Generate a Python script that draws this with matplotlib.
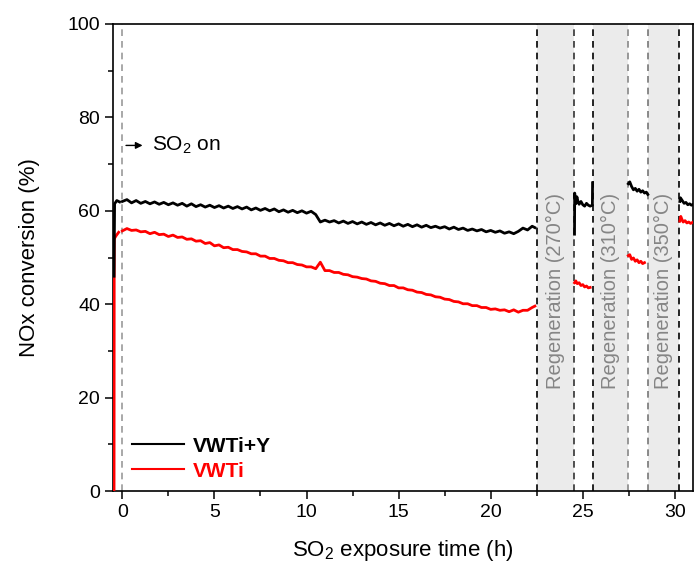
import numpy as np
import matplotlib.pyplot as plt
from matplotlib.ticker import MultipleLocator

plt.rcParams['font.family'] = ['Liberation Sans', 'DejaVu Sans']
plt.rcParams['mathtext.default'] = 'regular'

# catalyst warm-up, before SO2 is switched on
t_pre_y = [-0.45, -0.42, -0.3, -0.15]
vwtiy_pre = [46.0, 61.5, 62.2, 61.9]
t_pre = [-0.45, -0.44, -0.35, -0.2]
vwti_pre = [0.0, 54.0, 54.6, 55.4]

# SO2 exposure, 0 - 22.4 h
t_main = list(np.arange(0, 22.5, 0.25)) + [22.4]
vwtiy_main = [
    62.0, 62.4, 61.7, 62.2, 61.6, 62.0, 61.5, 61.9, 61.4, 61.8, 61.3, 61.7,
    61.2, 61.6, 61.0, 61.5, 60.9, 61.3, 60.8, 61.2, 60.7, 61.1, 60.6, 61.0,
    60.5, 60.9, 60.4, 60.8, 60.2, 60.6, 60.1, 60.5, 60.0, 60.4, 59.8, 60.2,
    59.7, 60.1, 59.6, 60.0, 59.5, 59.9, 59.2, 57.6, 58.0, 57.6, 57.9, 57.4,
    57.8, 57.3, 57.7, 57.2, 57.6, 57.1, 57.5, 57.0, 57.4, 56.9, 57.3, 56.8,
    57.2, 56.7, 57.1, 56.6, 57.0, 56.5, 56.9, 56.4, 56.7, 56.3, 56.6, 56.1,
    56.5, 56.0, 56.3, 55.8, 56.1, 55.7, 56.0, 55.5, 55.8, 55.4, 55.7, 55.2,
    55.5, 55.1, 55.6, 56.3, 55.9, 56.7, 56.4,
]
vwti_main = [
    55.7, 56.2, 55.8, 55.9, 55.5, 55.6, 55.1, 55.4, 54.9, 55.0, 54.5, 54.8,
    54.3, 54.4, 53.9, 54.0, 53.5, 53.6, 53.0, 53.2, 52.5, 52.7, 52.1, 52.2,
    51.7, 51.7, 51.3, 51.2, 50.8, 50.8, 50.3, 50.3, 49.8, 49.8, 49.4, 49.3,
    48.9, 48.9, 48.5, 48.4, 48.0, 48.0, 47.6, 49.0, 47.2, 47.2, 46.8, 46.8,
    46.4, 46.3, 45.9, 45.8, 45.5, 45.4, 45.0, 44.9, 44.5, 44.4, 44.0, 44.0,
    43.5, 43.5, 43.1, 43.0, 42.6, 42.5, 42.1, 42.0, 41.6, 41.5, 41.1, 41.0,
    40.6, 40.5, 40.1, 40.1, 39.7, 39.7, 39.3, 39.3, 38.9, 39.0, 38.7, 38.8,
    38.4, 38.8, 38.3, 38.7, 38.7, 39.3, 39.6,
]

# after regeneration at 270 C
t_r1_y = [24.55, 24.56, 24.62, 24.68, 24.74, 24.8, 24.9, 25.0, 25.1, 25.2, 25.3, 25.4, 25.52, 25.53]
vwtiy_r1 = [55.0, 63.8, 61.5, 63.0, 62.0, 61.4, 62.0, 61.3, 61.0, 61.6, 61.2, 61.0, 61.2, 66.0]
t_r1 = [24.55, 24.62, 24.7, 24.8, 24.9, 25.0, 25.1, 25.2, 25.3, 25.4]
vwti_r1 = [44.6, 45.0, 44.4, 44.6, 44.0, 44.2, 43.7, 43.9, 43.5, 43.6]

# after regeneration at 310 C
t_r2_y = [27.47, 27.55, 27.65, 27.75, 27.85, 27.95, 28.05, 28.15, 28.25, 28.35, 28.45, 28.53]
vwtiy_r2 = [65.8, 66.2, 65.2, 64.5, 64.8, 64.2, 64.6, 64.0, 64.3, 63.8, 64.0, 63.5]
t_r2 = [27.47, 27.55, 27.65, 27.75, 27.85, 27.95, 28.05, 28.15, 28.25, 28.35]
vwti_r2 = [50.4, 50.6, 49.6, 49.9, 49.2, 49.5, 48.9, 49.2, 48.7, 48.9]

# after regeneration at 350 C
t_r3_y = [30.27, 30.3, 30.4, 30.5, 30.6, 30.7, 30.8, 30.9, 31.0]
vwtiy_r3 = [62.0, 62.8, 62.2, 61.6, 61.8, 61.3, 61.5, 61.2, 61.4]
t_r3 = [30.27, 30.32, 30.38, 30.45, 30.55, 30.65, 30.75, 30.85, 30.95]
vwti_r3 = [57.8, 58.8, 58.2, 57.6, 57.9, 57.4, 57.6, 57.3, 57.5]

regen_start = [22.5, 25.55, 28.55]
regen_end = [24.5, 27.45, 30.25]
regen_labels = ['Regeneration (270°C)', 'Regeneration (310°C)', 'Regeneration (350°C)']
regen_line_colors = ['black', '#333333', 'black', '#888888', '#777777', 'black']


def join(parts):
    xs, ys = [], []
    for x, y in parts:
        xs += list(x) + [np.nan]
        ys += list(y) + [np.nan]
    return np.array(xs), np.array(ys)


x_y, y_y = join([(t_pre_y, vwtiy_pre), (t_main, vwtiy_main), (t_r1_y, vwtiy_r1),
                 (t_r2_y, vwtiy_r2), (t_r3_y, vwtiy_r3)])
x_r, y_r = join([(t_pre, vwti_pre), (t_main, vwti_main), (t_r1, vwti_r1),
                 (t_r2, vwti_r2), (t_r3, vwti_r3)])

fig = plt.figure(figsize=(6.94, 5.71), dpi=100)
ax = fig.add_axes([0.163, 0.140, 0.836, 0.818])

for a, b in zip(regen_start, regen_end):
    ax.axvspan(a, b, color='#ebebeb', lw=0, zorder=0)
bounds = sorted(regen_start + regen_end)
for xv, c in zip(bounds, regen_line_colors):
    ax.axvline(xv, color=c, ls=(0, (4, 3)), lw=1.2, zorder=1)
ax.axvline(0, color='#999999', ls=(0, (4, 3)), lw=1.2, zorder=1)

for a, b, lab in zip(regen_start, regen_end, regen_labels):
    ax.text((a + b) / 2, 42.8, lab, rotation=90, ha='center', va='center',
            color='#858585', fontsize=14.5)

l_r, = ax.plot(x_r, y_r, color='#ff0000', lw=2, zorder=3)
l_y, = ax.plot(x_y, y_y, color='black', lw=2, zorder=4)

ax.annotate('', xy=(1.25, 74), xytext=(0.05, 74),
            arrowprops=dict(arrowstyle='-|>', color='black', lw=1, mutation_scale=10))
ax.text(1.6, 74, 'SO$_2$ on', fontsize=15, va='center', ha='left')

leg = ax.legend([l_y, l_r], ['VWTi+Y', 'VWTi'], loc='lower left',
                bbox_to_anchor=(0.033, 0.022), frameon=False,
                prop={'size': 15, 'weight': 'bold'}, handlelength=2.5,
                handletextpad=0.4, labelspacing=0.3, borderpad=0,
                borderaxespad=0, labelcolor=['black', '#ff0000'])
for h in leg.legend_handles:
    h.set_linewidth(1.5)

ax.set_xlim(-0.5, 31)
ax.set_ylim(0, 100)
ax.xaxis.set_major_locator(MultipleLocator(5))
ax.xaxis.set_minor_locator(MultipleLocator(2.5))
ax.yaxis.set_major_locator(MultipleLocator(20))
ax.yaxis.set_minor_locator(MultipleLocator(10))
ax.tick_params(which='major', direction='out', length=6, width=1.1, labelsize=14)
ax.tick_params(which='minor', direction='out', length=3.5, width=1.1)
for s in ax.spines.values():
    s.set_linewidth(1.2)

ax.set_xlabel('SO$_2$ exposure time (h)', fontsize=16, labelpad=12)
ax.set_ylabel('NOx conversion (%)', fontsize=16, labelpad=20)

fig.savefig('out.png', dpi=100)
